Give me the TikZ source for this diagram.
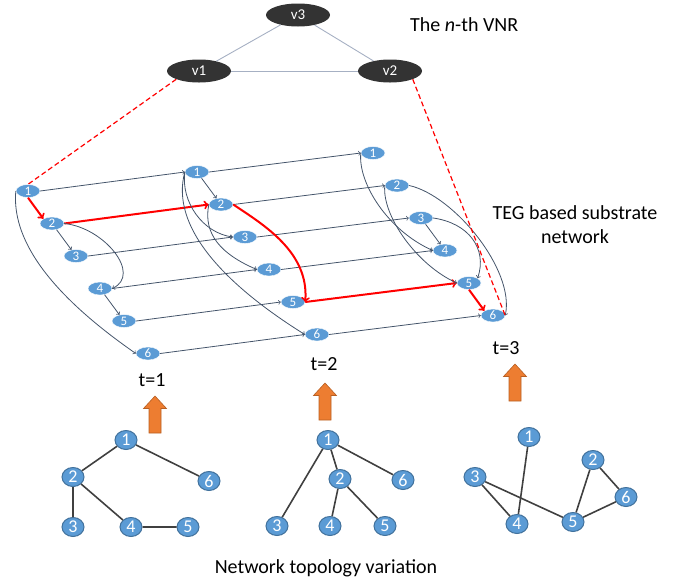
\documentclass[tikz,border=0pt]{standalone}
\usepackage{fontspec}
\setmainfont{Carlito}
\usepackage{xcolor}
\usetikzlibrary{shapes.geometric}

\definecolor{tegblue}{HTML}{5B9BD5}
\definecolor{tegline}{HTML}{44546A}
\definecolor{vnrfill}{HTML}{333333}
\definecolor{vnrline}{HTML}{A6B0C3}
\definecolor{rimblue}{HTML}{41719C}
\definecolor{topoline}{HTML}{404040}
\definecolor{uporange}{HTML}{ED7D31}
\definecolor{uprim}{HTML}{B85F22}

\begin{document}
\begin{tikzpicture}[x=1pt,y=-1pt,
  every node/.append style={font=\fontsize{20}{24}\selectfont},
  vnode/.style={ellipse,fill=vnrfill,inner sep=0pt,minimum width=64pt,minimum height=23pt,text=white,font=\fontsize{15}{15}\selectfont},
  teg/.style={ellipse,fill=tegblue,draw=white,line width=0.4pt,inner sep=0pt,minimum width=24pt,minimum height=13pt,text=white,font=\fontsize{13}{13}\selectfont},
  topo/.style={ellipse,fill=tegblue,draw=rimblue,line width=1pt,inner sep=0pt,minimum width=22pt,minimum height=19pt,text=white,font=\fontsize{18}{18}\selectfont},
  link/.style={->,tegline,line width=0.8pt},
  redlink/.style={->,red,line width=2pt},
  mapline/.style={red,line width=1.2pt,dash pattern=on 5pt off 3pt},
  topoedge/.style={topoline,line width=1.6pt},
  uparrow/.style={fill=uporange,draw=uprim,line width=0.6pt}
]
\useasboundingbox (0,0) rectangle (683,582);

% virtual network request
\node[vnode] (v3) at (298,15) {v3};
\node[vnode] (v1) at (199,71) {v1};
\node[vnode] (v2) at (390,71) {v2};
\draw[vnrline,line width=0.9pt] (v1) -- (v3) -- (v2);
\draw[vnrline,line width=0.9pt] (v1) -- (v2);
\node[anchor=west,inner sep=0pt] (vnrtitle) at (410,25) {The \textit{n}-th VNR};

% time expanded graph, one column of nodes per slot
\foreach \t/\bx/\by in {1/28/191,2/197/172,3/373/153}
  \foreach \i in {1,...,6}
    \node[teg] (n\t\i) at ({\bx+24*(\i-1)},{\by+32.5*(\i-1)}) {\i};

\foreach \a/\b in {11/21,13/23,14/24,15/25,16/26,21/31,22/32,23/33,24/34,26/36}
  \draw[link] (n\a.east) -- (n\b.west);
\draw[redlink] (n12.east) -- (n22.west);
\draw[redlink] (n25.east) -- (n35.west);

% t=1
\draw[redlink] (n11.south) -- (n12.north west);
\draw[link] (n12) -- (n13);
\draw[link] (n14) -- (n15);
\draw[link] (n12.east) .. controls +(40,4) and +(30,-14) .. (n14.east);
\draw[link] (n11.west) .. controls +(-4,45) and +(-92,-64) .. (n16.west);

% t=2
\draw[link] (n21) -- (n22);
\draw[link] (n21.west) .. controls +(-4,30) and +(-30,-4) .. (n23.west);
\draw[link] (n21.west) .. controls +(-15,55) and +(-80,-50) .. (n26.west);
\draw[link] (n22.west) .. controls +(-6,30) and +(-35,-15) .. (n24.west);
\draw[redlink] (n22.east) .. controls +(30,20) and +(4,-50) .. (n25.east);

% t=3
\draw[link] (n33) -- (n34);
\draw[redlink] (n35.south) -- (n36.north west);
\draw[link] (n31.west) .. controls +(-3,30) and +(-45,-20) .. (n34.west);
\draw[link] (n32.west) .. controls +(-3,30) and +(-40,-18) .. (n35.west);
\draw[link] (n33.east) .. controls +(35,5) and +(10,-30) .. (n35.north east);
\draw[link] (n32.east) .. controls +(45,10) and +(10,-45) .. (n36.east);

\draw[mapline] (v1.south west) -- (n11.north);
\draw[mapline] (v2.south east) -- (n36.east);

\node[align=center] (teglabel) at (575,225) {TEG based substrate\\network};
\node (tlab1) at (152,380) {t=1};
\node (tlab2) at (324,364) {t=2};
\node (tlab3) at (506,348) {t=3};

\foreach \ax/\ay in {155/396,325/383,515/364}
  \draw[uparrow] (\ax,\ay) -- ++(11.5,12.5) -- ++(-5.5,0) -- ++(0,24.5)
    -- ++(-12,0) -- ++(0,-24.5) -- ++(-5.5,0) -- cycle;

% topology in each slot
\foreach \n/\x/\y in {1/126/440,2/73/477,3/73/527,4/131/527,5/188/527,6/209/481}
  \node[topo] (a\n) at (\x,\y) {\n};
\draw[topoedge] (a1) -- (a2) (a1) -- (a6) (a2) -- (a3) (a2) -- (a4) (a4) -- (a5);

\foreach \n/\x/\y in {1/328/440,2/340/479,3/277/526,4/330/526,5/385/526,6/403/480}
  \node[topo] (b\n) at (\x,\y) {\n};
\draw[topoedge] (b1) -- (b3) (b1) -- (b2) (b1) -- (b6) (b2) -- (b4) (b2) -- (b5);

\foreach \n/\x/\y in {1/529/437,2/593/460,3/475/477,4/517/524,5/573/522,6/626/497}
  \node[topo] (c\n) at (\x,\y) {\n};
\draw[topoedge] (c1) -- (c4) (c3) -- (c4) (c3) -- (c5) (c2) -- (c5) (c2) -- (c6) (c5) -- (c6);

\node (topolabel) at (326,568) {Network topology variation};

\end{tikzpicture}
\end{document}
